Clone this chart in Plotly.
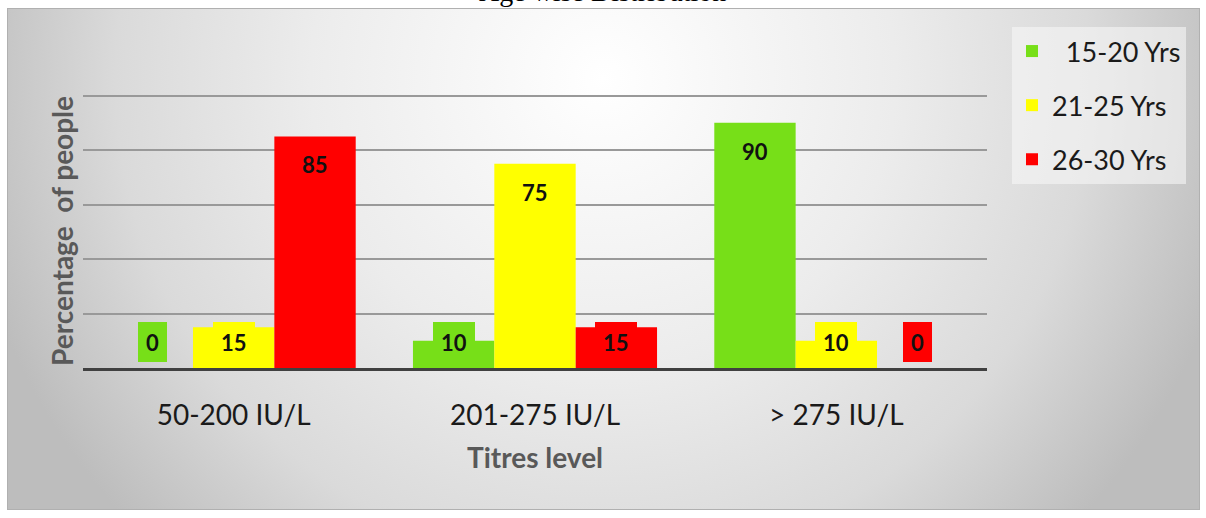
import base64
import plotly.graph_objects as go

categories = ["50-200 IU/L", "201-275 IU/L", "> 275 IU/L"]
series_names = ["\u00a0\u00a015-20 Yrs", "21-25 Yrs", "26-30 Yrs"]
vals_15_20 = [0, 10, 90]
vals_21_25 = [15, 75, 10]
vals_26_30 = [85, 15, 0]
colors = ["#77df18", "#ffff00", "#ff0000"]
title_text = "Age wise Distribution"
y_title = "Percentage\u00a0 of people"
x_title = "Titres level"

series = [vals_15_20, vals_21_25, vals_26_30]

W, H = 1206, 518
L, R, T, B = 83, 219, 94, 150
pw, ph = W - L - R, H - T - B
bargap = 0.19

fig = go.Figure()
for name, vals, col in zip(series_names, series, colors):
    fig.add_trace(go.Bar(
        x=categories, y=vals, name=name, marker=dict(color=col, line=dict(width=0)),
        legendgroup=name,
    ))

# data labels with filled boxes
bw = (1 - bargap) / len(series)
label_floor = 20
for i, (vals, col) in enumerate(zip(series, colors)):
    for j, v in enumerate(vals):
        fig.add_annotation(
            x=j + (i - (len(series) - 1) / 2) * bw, y=max(v, label_floor),
            xref="x", yref="y", yanchor="top", yshift=-8,
            text=str(v), showarrow=False, bgcolor=col, borderpad=8, borderwidth=0, height=24,
            font=dict(family="Lato", size=22, color="#111111", weight="bold"),
        )

# gradient background panel
svg = ('<svg xmlns="http://www.w3.org/2000/svg" width="1193" height="502" viewBox="0 0 1193 502" '
       'preserveAspectRatio="none"><defs><radialGradient id="g" gradientUnits="userSpaceOnUse" '
       'cx="596" cy="70" r="650"><stop offset="0" stop-color="#ffffff"/>'
       '<stop offset="0.45" stop-color="#ececec"/><stop offset="0.75" stop-color="#dadada"/>'
       '<stop offset="1" stop-color="#bdbdbd"/></radialGradient></defs>'
       '<rect x="0.5" y="0.5" width="1192" height="501" fill="url(#g)" stroke="#b0b0b0" stroke-width="1"/></svg>')
src = "data:image/svg+xml;base64," + base64.b64encode(svg.encode()).decode()
bx0, by0, bx1, by1 = 7, 8, 1200, 510
fig.add_layout_image(
    source=src, xref="paper", yref="paper",
    x=(bx0 - L) / pw, y=(H - B - by0) / ph,
    sizex=(bx1 - bx0) / pw, sizey=(by1 - by0) / ph,
    xanchor="left", yanchor="top", sizing="stretch", layer="below",
)

# title, cut at the top edge as in the original
fig.add_annotation(
    text=title_text, xref="paper", yref="paper",
    x=(602 - L) / pw, y=(H - B + 8) / ph, xanchor="center", yanchor="middle",
    showarrow=False, font=dict(family="Liberation Serif", size=28, color="#000000"),
)

fig.update_layout(
    width=W, height=H, autosize=False,
    margin=dict(l=L, r=R, t=T, b=B, pad=0),
    paper_bgcolor="#ffffff", plot_bgcolor="rgba(0,0,0,0)",
    barmode="group", bargap=bargap, bargroupgap=0,
    showlegend=True,
    legend=dict(
        x=(1012 - L) / pw, y=(H - B - 27) / ph, xanchor="left", yanchor="top",
        bgcolor="rgba(246,246,246,0.6)", borderwidth=0,
        font=dict(family="Lato", size=27, color="#1a1a1a"),
        traceorder="grouped", tracegroupgap=16,
    ),
    xaxis=dict(
        showline=True, linecolor="#404040", linewidth=3, showgrid=False, zeroline=False,
        ticks="outside", ticklen=20, tickcolor="rgba(0,0,0,0)",
        tickfont=dict(family="Lato", size=28, color="#1a1a1a"),
        title=dict(text=x_title, standoff=19,
                   font=dict(family="Lato", size=28, color="#595959", weight="bold")),
        fixedrange=True, automargin=False,
    ),
    yaxis=dict(
        range=[0, 100.6], tick0=0, dtick=20, showgrid=True, gridcolor="#999999", gridwidth=2,
        zeroline=False, showline=False, showticklabels=False, ticks="",
        title=dict(text=y_title, standoff=0,
                   font=dict(family="Lato", size=28, color="#595959", weight="bold")),
        fixedrange=True, automargin=False,
    ),
)

fig.write_html(
    "out.html",
    config={"displayModeBar": False, "staticPlot": False},
    post_script="document.body.style.margin='0';document.body.style.padding='0';",
)
